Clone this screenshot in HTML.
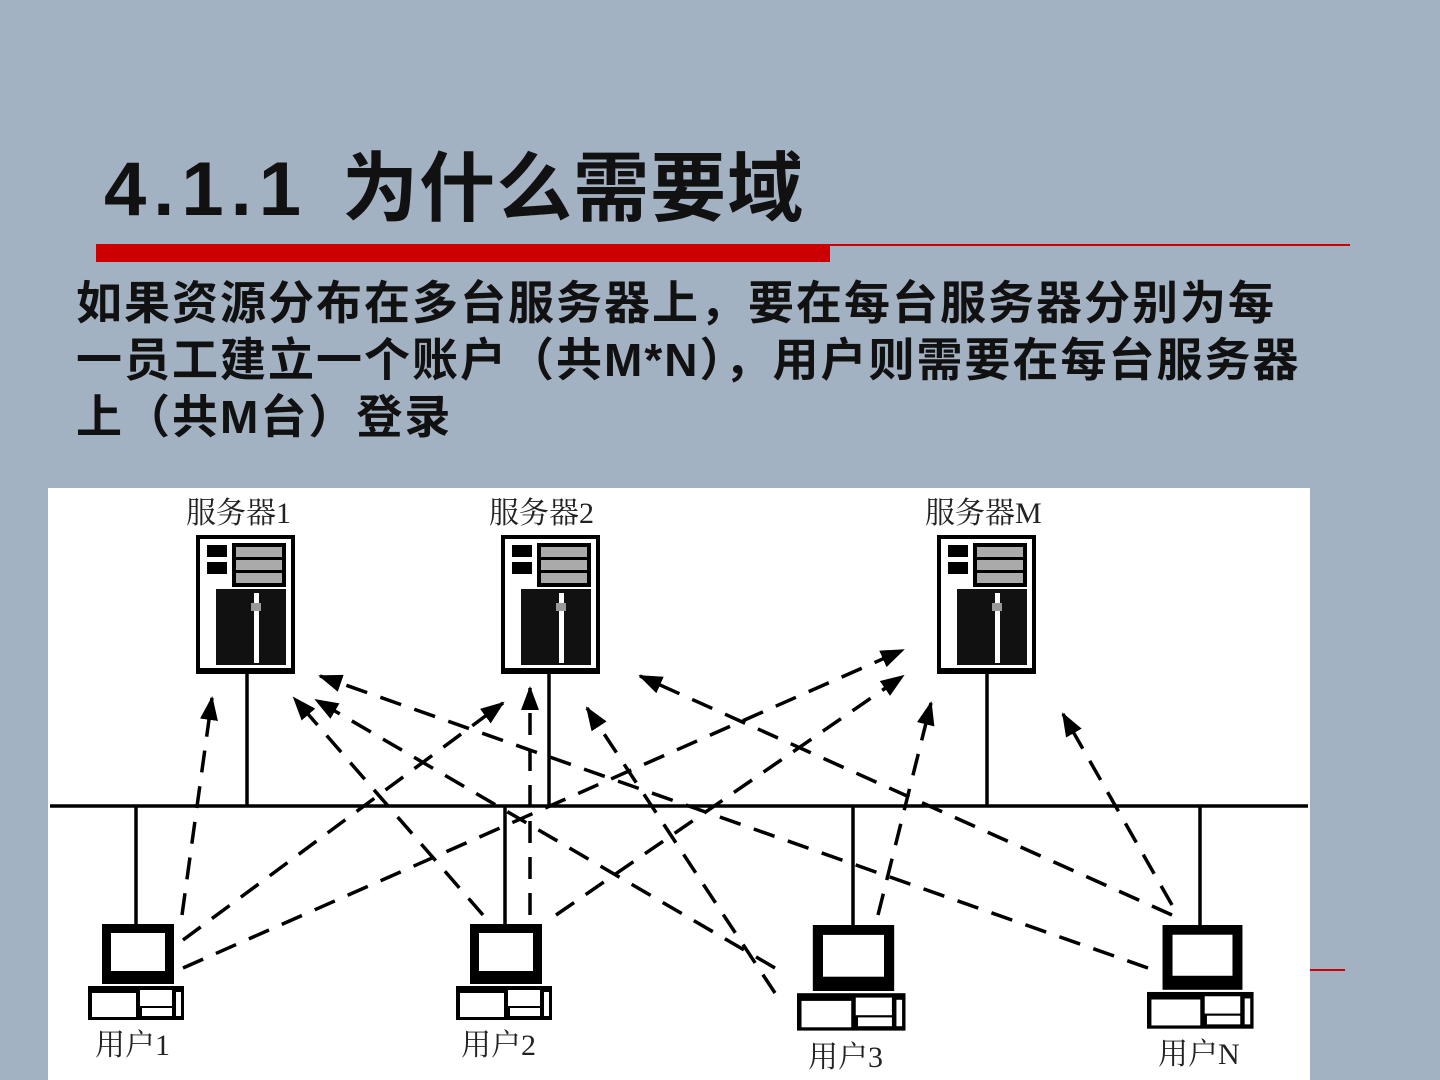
<!DOCTYPE html>
<html><head><meta charset="utf-8"><style>
html,body{margin:0;padding:0;}
body{width:1440px;height:1080px;background:#a3b2c2;position:relative;overflow:hidden;font-family:"Liberation Sans","Noto Sans CJK SC",sans-serif;}
.t{position:absolute;left:104px;top:140px;font-size:76px;font-weight:bold;color:#111;white-space:nowrap;line-height:100px;letter-spacing:1px;}
.b{position:absolute;left:76px;top:275px;font-size:46px;font-weight:bold;color:#111;line-height:57px;white-space:nowrap;letter-spacing:2px;}
</style></head><body>
<div class="t"><span style="letter-spacing:7px">4.1.1</span> <span style="margin-left:12px">为什么需要域</span></div>
<div style="position:absolute;left:96px;top:244px;width:734px;height:18px;background:#cc0000"></div>
<div style="position:absolute;left:830px;top:244px;width:520px;height:2px;background:#cc0000"></div>
<div class="b">如果资源分布在多台服务器上，要在每台服务器分别为每<br>一员工建立一个账户（共M*N），用户则需要在每台服务器<br>上（共M台）登录</div>
<div style="position:absolute;left:1310px;top:969px;width:35px;height:2px;background:#cc0000"></div>
<svg style="position:absolute;left:0;top:0" width="1440" height="1080">
<defs>
<marker id="a" markerWidth="24" markerHeight="18" refX="22" refY="9" orient="auto" markerUnits="userSpaceOnUse" viewBox="0 0 24 18"><path d="M0,0 L24,9 L0,18 z" fill="#000"/></marker>
<g id="srv">
<rect x="0" y="0" width="95" height="135" fill="#fff" stroke="#000" stroke-width="4"/>
<rect x="0" y="131" width="95" height="6" fill="#000"/>
<rect x="34" y="6" width="54" height="44" fill="#000"/>
<rect x="38" y="10" width="46" height="10" fill="#aaa"/>
<rect x="38" y="23" width="46" height="10" fill="#aaa"/>
<rect x="38" y="36" width="46" height="10" fill="#aaa"/>
<rect x="9" y="8" width="20" height="12" fill="#000"/>
<rect x="9" y="25" width="20" height="12" fill="#000"/>
<rect x="18" y="52" width="70" height="76" fill="#111"/>
<rect x="56" y="56" width="5" height="70" fill="#fff"/>
<rect x="53" y="66" width="10" height="8" fill="#999"/>
</g>
<g id="pc">
<rect x="14" y="0" width="72" height="60" fill="#000"/>
<rect x="22" y="8" width="56" height="40" fill="#fff" stroke="#000" stroke-width="2"/>
<rect x="0" y="62" width="96" height="34" fill="#000"/>
<rect x="4" y="69" width="44" height="24" fill="#fff"/>
<rect x="52" y="66" width="32" height="16" fill="#fff"/>
<rect x="54" y="84" width="30" height="8" fill="#fff"/>
<rect x="88" y="68" width="5" height="24" fill="#fff"/>
</g>
</defs>
<rect x="48" y="488" width="1262" height="592" fill="#fff"/>
<g font-family="'Liberation Serif','Noto Serif CJK SC',serif" font-size="30" fill="#222">
<text x="186" y="523">服务器1</text>
<text x="489" y="523">服务器2</text>
<text x="925" y="523">服务器M</text>
<text x="95" y="1055">用户1</text>
<text x="461" y="1055">用户2</text>
<text x="808" y="1067">用户3</text>
<text x="1158" y="1064">用户N</text>
</g>
<use href="#srv" x="198" y="537"/>
<use href="#srv" x="503" y="537"/>
<use href="#srv" x="939" y="537"/>
<g stroke="#000" stroke-width="3.5">
<line x1="50" y1="806" x2="1308" y2="806"/>
<line x1="247" y1="674" x2="247" y2="806"/>
<line x1="549" y1="674" x2="549" y2="806"/>
<line x1="987" y1="674" x2="987" y2="806"/>
<line x1="136" y1="806" x2="136" y2="926"/>
<line x1="505" y1="806" x2="505" y2="926"/>
<line x1="853" y1="806" x2="853" y2="926"/>
<line x1="1200" y1="806" x2="1200" y2="926"/>
</g>
<use href="#pc" x="88" y="924"/>
<use href="#pc" x="456" y="924"/>
<g transform="translate(797,925) scale(1.13,1.1)"><use href="#pc"/></g>
<g transform="translate(1147,925) scale(1.11,1.08)"><use href="#pc"/></g>
<g stroke="#000" stroke-width="3.5" stroke-dasharray="22,14" fill="none" marker-end="url(#a)">
<line x1="182" y1="915" x2="212" y2="698"/>
<line x1="183" y1="940" x2="503" y2="703"/>
<line x1="183" y1="968" x2="903" y2="650"/>
<line x1="483" y1="915" x2="294" y2="698"/>
<line x1="530" y1="915" x2="530" y2="688"/>
<line x1="556" y1="915" x2="903" y2="676"/>
<line x1="775" y1="968" x2="316" y2="700"/>
<line x1="775" y1="993" x2="587" y2="708"/>
<line x1="878" y1="915" x2="931" y2="703"/>
<line x1="1148" y1="968" x2="320" y2="676"/>
<line x1="1172" y1="915" x2="640" y2="676"/>
<line x1="1172" y1="905" x2="1063" y2="714"/>
</g>
</svg>
</body></html>
